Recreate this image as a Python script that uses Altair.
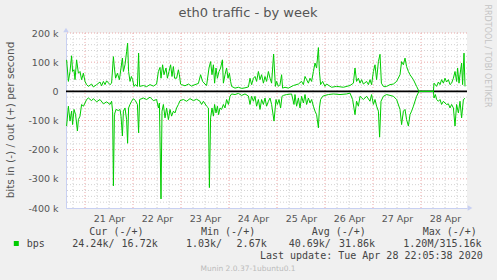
import altair as alt
import pandas as pd

# ---- data (hours since 21 Apr 00:00, values in kbit/s) ----
out_hours = [-9.2,-8.3,-7.5,-6.7,-6.2,-5.5,-5.0,-4.2,-3.3,-2.5,-1.7,-0.8,0,0.8,1.7,3.3,4.2,5.8,7.5,8.3,9.2,10,10.8,12.5,13.3,
             14.2,14.7,15.3,16.2,17.2,18,18.7,19.2,20,20.8,21.3,21.8,22.5,23.2,23.8,24.5,25.2,26.2,26.8,27.3,29.2,30.8,32.5,34.2,35.8,
             36.7,37.5,38,38.8,39.5,40.5,41.2,42,42.8,43.5,44.2,44.8,45.8,46.7,47.2,47.8,48.3,50,51.7,53.3,55,56.7,57.8,58.8,60,60.8,
             62,62.8,63.5,64.2,64.8,65.5,66.2,67,67.8,68.7,69.2,70,70.8,71.5,72.2,72.8,73.3,75,76.7,78.3,80,81.7,82.5,83.3,84.2,85,
             85.8,86.7,87.5,88.3,89.2,90,90.8,91.7,92.5,93.3,94.3,95.2,95.8,96.7,97.5,98.3,98.8,100,101.7,104.2,106.7,108.3,109.2,110,
             110.8,111.7,112.5,113.3,114.2,115,115.8,116.7,117.2,117.8,118.8,120,120.8,123.3,125.8,129.2,132.5,134.2,135,135.8,136.7,
             137.5,138.3,139.2,140.8,141.7,142.5,143.3,144.2,145,145.8,146.7,147.5,148.2,149.2,150.8,152.5,154.2,155.8,157.5,158.3,
             159.2,160,160.8,161.7,162.5,164.2,165.8,167,174.2,174.5,175.8,176.7,177.5,178.3,179.2,180,180.8,181.7,182.5,183.3,184.2,
             185,185.8,186.3,187,187.5,188.3,188.8,189.5,190]
out_kbps = [108,34,68,122,68,74,40,108,62,68,40,62,34,23,17,25,15,23,32,19,34,23,36,23,28,
            119,80,45,62,40,80,114,68,91,136,165,68,34,51,40,17,23,17,131,17,20,16,23,18,25,
            68,82,45,91,57,80,45,68,91,51,85,45,45,74,57,25,23,19,25,18,23,27,57,34,25,20,
            80,102,57,91,28,80,45,68,80,108,28,57,80,45,62,34,17,11,14,10,12,15,45,23,45,51,
            34,68,40,57,28,51,34,68,45,28,128,17,34,17,23,57,11,14,11,20,25,34,23,51,
            40,28,45,34,68,97,80,150,68,23,34,17,25,14,17,14,20,28,80,34,45,
            28,40,25,34,23,40,23,68,91,40,102,127,28,17,17,23,25,34,57,102,
            91,114,85,68,57,40,17,0,0,28,17,32,23,40,28,45,32,40,23,28,45,
            68,34,80,28,57,97,23,131,17]

in_hours = [-9.2,-8.3,-7.5,-6.7,-6.2,-5.5,-4.7,-3.8,-3.3,-2.5,-1.7,-0.8,0,0.8,1.7,3.3,4.2,5.8,7.5,9.2,10.8,12.5,13.3,13.8,
            14.2,14.7,15.5,16.7,17.5,18,18.7,19.2,20,20.8,21.3,21.8,22.5,23.3,24.2,25.2,26.2,26.8,27.3,29.2,30.8,32.5,34.2,35.8,
            36.7,37.2,38,38.5,39.2,40,40.8,41.7,42.5,43.3,44.2,45,45.8,46.7,47.5,49.2,50.8,52.5,54.2,55.8,57.5,58.3,59.2,60.8,
            61.7,62.2,62.8,63.5,64.2,64.8,65.5,66.2,66.8,67.5,68.3,69.2,70,70.8,71.7,72.5,73.3,75,76.7,78.3,80,81.7,82.5,83.3,
            84.2,85,85.8,86.7,87.5,88.3,89.2,90,90.8,91.7,92.5,93.3,94.5,95.5,96.2,97,97.8,98.5,99.2,100.8,103.3,104.5,105,105.8,
            106.7,107.5,108.3,109.2,110,110.8,111.7,112.5,113.3,114.2,115,115.8,116.7,117.2,117.8,118.8,120,121.7,124.2,127.5,
            130.8,132.5,133.8,135,135.8,136.7,137.5,139.2,140.8,142.5,143.3,144.2,145,145.8,146.7,147.3,148,149.2,150.8,152.5,
            154.2,155.8,157.5,158.3,159.2,160,160.8,161.7,162.5,163.3,164.2,165.8,167,174.2,174.5,175.2,175.8,176.7,177.5,178.3,
            179.2,180,180.8,181.7,182.5,183.3,184.2,185,185.8,186.7,187.5,188.3,189.2,190]
in_kbps = [-119,-51,-102,-68,-114,-62,-80,-136,-97,-85,-45,-51,-40,-28,-23,-32,-25,-36,-28,-43,-36,-45,-34,-68,
           -324,-80,-62,-66,-62,-85,-153,-68,-57,-97,-178,-57,-45,-34,-25,-32,-45,-142,-28,-23,-28,-20,-32,-28,
           -57,-40,-369,-68,-45,-91,-57,-97,-62,-85,-68,-74,-57,-45,-32,-28,-34,-25,-32,-27,-34,-45,-34,-51,
           -57,-330,-91,-57,-85,-45,-74,-51,-80,-57,-62,-45,-57,-28,-45,-17,-9,-11,-7,-14,-9,-16,-45,-17,
           -34,-17,-51,-28,-62,-28,-45,-23,-51,-34,-23,-45,-102,-28,-45,-28,-57,-17,-14,-11,-9,-45,-11,-51,
           -23,-57,-17,-40,-11,-45,-23,-40,-28,-51,-68,-80,-125,-57,-28,-17,-14,-11,-9,-11,
           -9,-6,-28,-80,-34,-51,-17,-28,-17,-34,-11,-45,-28,-51,-68,-157,-34,-17,-11,-14,
           -17,-28,-62,-114,-68,-62,-97,-119,-80,-68,-51,-17,0,0,-23,-11,-28,-34,-28,-45,
           -34,-40,-45,-43,-57,-45,-57,-119,-45,-74,-34,-91,-28,-24]

y_ticks = [-400, -300, -200, -100, 0, 100, 200]
day_ticks = [12, 36, 60, 84, 108, 132, 156, 180]
day_labels = ["21 Apr", "22 Apr", "23 Apr", "24 Apr", "25 Apr", "26 Apr", "27 Apr", "28 Apr"]

title_text = "eth0 traffic - by week"
y_title = "bits in (-) / out (+) per second"
legend_headers = ["Cur (-/+)", "Min (-/+)", "Avg (-/+)", "Max (-/+)"]
legend_in = ["24.24k/", "1.03k/", "40.69k/"]
legend_out = ["16.72k", "2.67k", "31.86k"]
legend_max = "1.20M/315.16k"
series_name = "bps"
last_update = "Last update: Tue Apr 28 22:05:38 2020"
footer = "Munin 2.0.37-1ubuntu0.1"
side_text = "RRDTOOL / TOBI OETIKER"

# ---- chart ----
W, H = 401, 175
GREEN = "#00CC00"
AXIS_C = "#C8D0F2"
LABEL_C = "#555555"
LEG_C = "#444444"
MINOR_C = "#D2D2D2"
MAJOR_C = "#EBA8A8"

xscale = alt.Scale(domain=[-9.5, 191], nice=False, zero=False)
yscale = alt.Scale(domain=[-400, 200], nice=False, zero=False)

labels_js = "[" + ",".join("'%s'" % s for s in day_labels) + "]"
xaxis = alt.Axis(values=day_ticks, labelExpr=labels_js + "[floor(datum.value/24)]",
                 grid=False, ticks=False, domainColor=AXIS_C, title=None,
                 labelFont="DejaVu Sans", labelFontSize=9.5, labelColor=LABEL_C, labelPadding=5)
yaxis = alt.Axis(values=y_ticks, labelExpr="datum.value == 0 ? '0' : datum.value + ' k'",
                 grid=False, ticks=False, domainColor=AXIS_C, title=None,
                 labelFont="DejaVu Sans", labelFontSize=9.5, labelColor=LABEL_C, labelPadding=8)

minor_x = [h for h in range(-6, 191, 6) if h % 24 != 0]
major_x = [h for h in range(0, 191, 24)]
minor_y = [v for v in range(-380, 200, 20) if v % 100 != 0]
major_y = [v for v in range(-300, 201, 100)]

def vgrid(vals, color):
    return alt.Chart(pd.DataFrame({"h": vals})).mark_rule(
        color=color, strokeWidth=1, strokeDash=[1, 2]).encode(
        x=alt.X("h:Q", scale=xscale, axis=xaxis))

def hgrid(vals, color):
    return alt.Chart(pd.DataFrame({"v": vals})).mark_rule(
        color=color, strokeWidth=1, strokeDash=[1, 2]).encode(
        y=alt.Y("v:Q", scale=yscale, axis=yaxis))

zero = alt.Chart(pd.DataFrame({"v": [0]})).mark_rule(color="black", strokeWidth=1.6).encode(
    y=alt.Y("v:Q", scale=yscale, axis=yaxis))

out_line = alt.Chart(pd.DataFrame({"h": out_hours, "v": out_kbps})).mark_line(
    color=GREEN, strokeWidth=1).encode(
    x=alt.X("h:Q", scale=xscale, axis=xaxis),
    y=alt.Y("v:Q", scale=yscale, axis=yaxis))
in_line = alt.Chart(pd.DataFrame({"h": in_hours, "v": in_kbps})).mark_line(
    color=GREEN, strokeWidth=1).encode(
    x=alt.X("h:Q", scale=xscale, axis=xaxis),
    y=alt.Y("v:Q", scale=yscale, axis=yaxis))

one = pd.DataFrame({"a": [0]})

def txt(s, x, y, size=10, color=LEG_C, font="DejaVu Sans Mono", align="left", angle=0):
    return alt.Chart(one).mark_text(font=font, fontSize=size, color=color, align=align,
                                    baseline="middle", angle=angle).encode(
        x=alt.value(x), y=alt.value(y), text=alt.value(s))

texts = [
    txt(title_text, 182, -20, size=13, color=LABEL_C, font="DejaVu Sans", align="center"),
    txt(y_title, -55, 87, size=10.5, color=LABEL_C, font="DejaVu Sans", align="center", angle=270),
    txt(side_text, 421, 23, size=8, color="#C4C4C4", font="DejaVu Sans", align="center", angle=90),
    txt(series_name, -39.3, 211.3),
    txt(last_update, 416.7, 223, align="right"),
    txt(footer, 182, 236, size=7.5, color="#BBBBBB", font="DejaVu Sans", align="center"),
    txt(legend_max, 337.3, 211.3),
]
for s, x in zip(legend_headers, [23.3, 135, 245.7, 356.7]):
    texts.append(txt(s, x, 199.3))
for s, x in zip(legend_in, [6.3, 120, 222.7]):
    texts.append(txt(s, x, 211.3))
for s, x in zip(legend_out, [91.7, 200.7, 309]):
    texts.append(txt(s, x, 211.3, align="right"))

square = alt.Chart(one).mark_square(color=GREEN, size=25, opacity=1).encode(
    x=alt.value(-49.7), y=alt.value(210.5))
arrow_up = alt.Chart(one).mark_point(shape="triangle-up", filled=True, color=AXIS_C, size=30, opacity=1).encode(
    x=alt.value(0), y=alt.value(-3))
arrow_right = alt.Chart(one).mark_point(shape="triangle-right", filled=True, color=AXIS_C, size=30, opacity=1).encode(
    x=alt.value(404), y=alt.value(H))

chart = alt.layer(
    vgrid(minor_x, MINOR_C), hgrid(minor_y, MINOR_C),
    vgrid(major_x, MAJOR_C), hgrid(major_y, MAJOR_C),
    zero, out_line, in_line, square, arrow_up, arrow_right, *texts
).properties(
    width=W, height=H,
    padding={"left": 66, "top": 33, "right": 30, "bottom": 72},
    autosize=alt.AutoSizeParams(type="none"),
).configure(background="#F0F0F0").configure_view(fill="white", strokeWidth=0)

chart.save("out.html", embed_options={"renderer": "svg", "actions": False})
